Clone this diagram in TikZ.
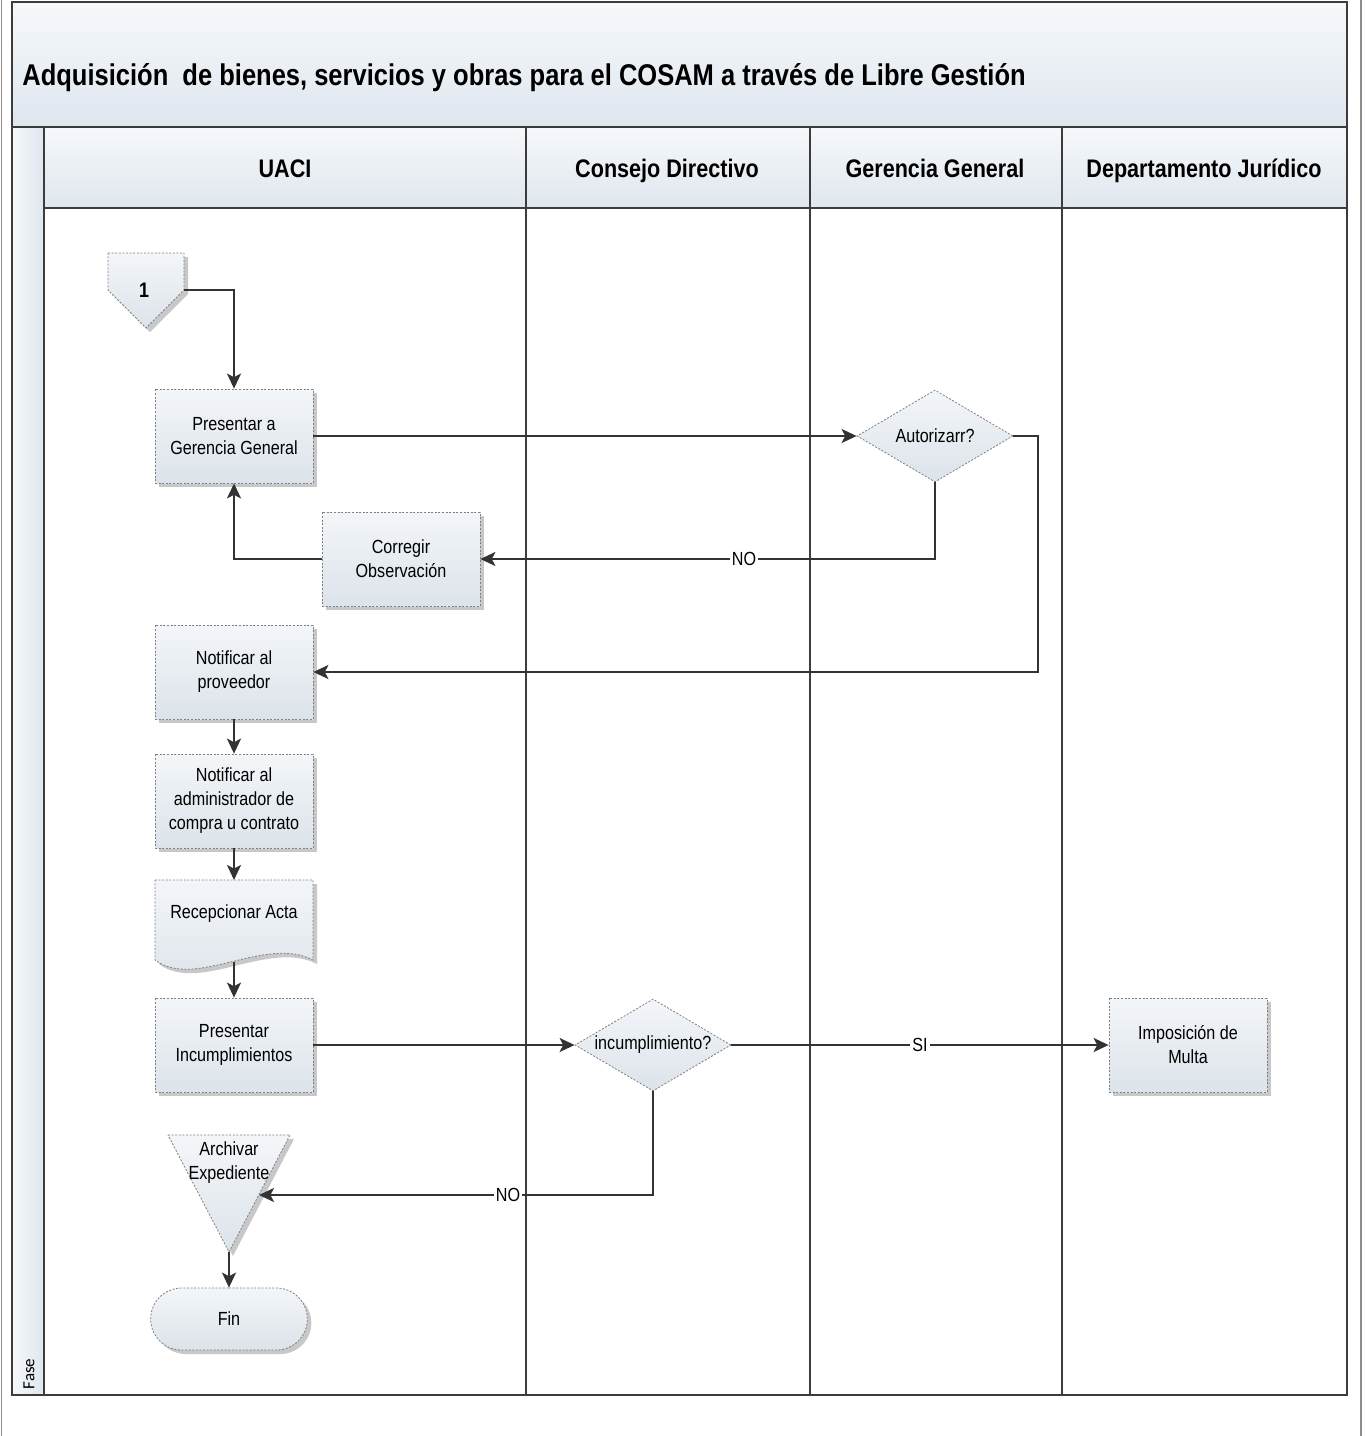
\documentclass[tikz,border=0pt]{standalone}
\usepackage{fontspec}
\setmainfont{Liberation Sans}[FakeStretch=0.85]
\newfontfamily\fasefont{Carlito}
\usetikzlibrary{arrows.meta,shapes.geometric,shapes.misc,shadows}
\definecolor{lineclr}{HTML}{333333}
\definecolor{frameclr}{HTML}{3C3C3C}
\definecolor{filltop}{HTML}{F3F6F9}
\definecolor{fillbot}{HTML}{DCE3EA}
\definecolor{bandtop}{HTML}{F6F9FB}
\definecolor{bandbot}{HTML}{DFE6EE}

\begin{document}
\begin{tikzpicture}[x=0.5pt,y=-0.5pt,
  boxfont/.style={font=\fontsize{9.5}{12}\selectfont},
  shapefill/.style={top color=filltop,bottom color=fillbot,draw=black!50,line width=0.4pt,dash pattern=on 1pt off 0.8pt},
  bandfill/.style={top color=bandtop,bottom color=bandbot},
  softshadow/.style={drop shadow={shadow xshift=2pt,shadow yshift=-2pt,opacity=0.3,fill=black!70}},
  procbox/.style={rectangle,shapefill,softshadow,boxfont,align=center,minimum width=79pt,minimum height=47pt,inner sep=2pt},
  decision/.style={diamond,shapefill,minimum width=78pt,minimum height=46pt,inner sep=0pt},
  terminal/.style={rounded rectangle,shapefill,softshadow,boxfont,minimum width=85pt,minimum height=31pt},
  flow/.style={draw=lineclr,line width=1pt,-{Stealth[length=7.5pt,width=7pt,inset=1.8pt]}},
  branch/.style={fill=white,inner sep=1pt,boxfont},
  lane/.style={draw=frameclr,line width=0.8pt},
  lanehead/.style={anchor=base,inner sep=0pt,font=\fontsize{12.7}{15}\selectfont\bfseries},
]
\useasboundingbox (0,0) rectangle (1366,1436);
\fill[white] (0,0) rectangle (1366,1436);

% page edges
\draw[black!45,line width=0.6pt] (1.5,0) -- (1.5,1436);
\draw[black!45,line width=0.6pt] (1361,0) -- (1361,1436);

% pool: title band, phase column, lane headers
\fill[bandfill] (12,2) rectangle (1347,127);
\fill[bandfill] (44,127) rectangle (1347,208);
\fill[left color=bandtop,right color=bandbot] (12,127) rectangle (44,1395);
\draw[lane] (12,2) rectangle (1347,1395);
\draw[lane] (12,127) -- (1347,127);
\draw[lane] (44,208) -- (1347,208);
\foreach \x in {44,526,810,1062} \draw[lane] (\x,127) -- (\x,1395);

\node[anchor=base west,inner sep=0pt,font=\fontsize{15}{18}\selectfont\bfseries] (title) at (22,85)
  {Adquisición\ \ de bienes, servicios y obras para el COSAM a través de Libre Gestión};
\node[lanehead] (h1) at (285,177) {UACI};
\node[lanehead] (h2) at (667,177) {Consejo Directivo};
\node[lanehead] (h3) at (935,177) {Gerencia General};
\node[lanehead] (h4) at (1204,177) {Departamento Jurídico};
\node[rotate=90,font=\fasefont\fontsize{8.5}{10}\selectfont] (fase) at (29,1374) {Fase};

% off-page connector
\draw[shapefill,softshadow] (108,253) -- (184,253) -- (184,290) -- (146,328) -- (108,290) -- cycle;
\node[font=\fontsize{10.5}{12}\selectfont\bfseries] (one) at (144,290) {1};
\coordinate (onex) at (184,290);

% process steps
\node[procbox] (pg) at (234,436) {Presentar a\\Gerencia General};
\node[procbox] (co) at (401,559) {Corregir\\Observación};
\node[decision,label={[boxfont]center:Autorizarr?}] (au) at (935,436) {};
\node[procbox] (np) at (234,672) {Notificar al\\proveedor};
\node[procbox] (na) at (234,801) {Notificar al\\administrador de\\compra u contrato};

% document shape
\draw[shapefill,softshadow] (155,880) -- (313,880) -- (313,960)
  .. controls (265,935) and (195,990) .. (155,960) -- cycle;
\node[boxfont] (ra) at (234,914) {Recepcionar Acta};
\coordinate (rat) at (234,880);
\coordinate (rab) at (234,962);

\node[procbox] (pi) at (234,1045) {Presentar\\Incumplimientos};
\node[decision,label={[boxfont]center:incumplimiento?}] (in) at (653,1045) {};
\node[procbox] (im) at (1188,1045) {Imposición de\\Multa};

% archive (inverted triangle)
\draw[shapefill,softshadow] (168,1135) -- (290,1135) -- (229,1252) -- cycle;
\node[boxfont,align=center] (ar) at (229,1163) {Archivar\\Expediente};
\coordinate (arin) at (259,1195);
\coordinate (arout) at (229,1252);

\node[terminal] (fin) at (229,1319) {Fin};

% connectors
\draw[flow] (onex) -| (pg.north);
\draw[flow] (pg.east) -- (au.west);
\draw[flow] (au.south) |- node[branch,pos=0.71]{NO} (co.east);
\draw[flow] (co.west) -| (pg.south);
\draw[flow] (au.east) -- ++(25,0) |- (np.east);
\draw[flow] (np.south) -- (na.north);
\draw[flow] (na.south) -- (rat);
\draw[flow] (rab) -- (pi.north);
\draw[flow] (pi.east) -- (in.west);
\draw[flow] (in.east) -- node[branch]{SI} (im.west);
\draw[flow] (in.south) |- node[branch,pos=0.684]{NO} (arin);
\draw[flow] (arout) -- (fin.north);
\end{tikzpicture}
\end{document}
